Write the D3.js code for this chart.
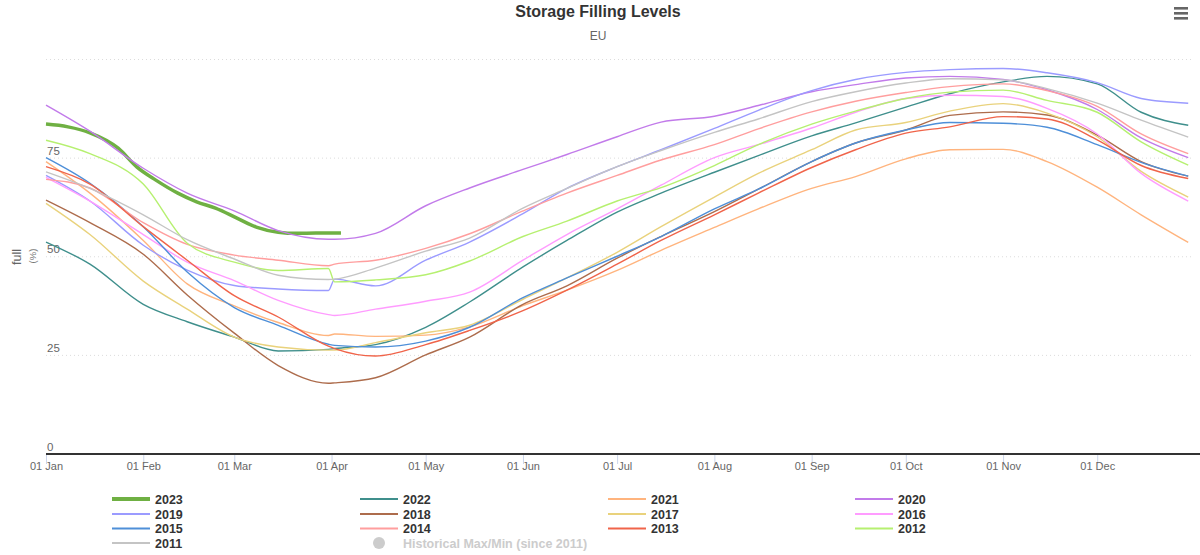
<!DOCTYPE html>
<html>
<head>
<meta charset="utf-8">
<script src="https://cdn.jsdelivr.net/npm/d3@7"></script>
<style>
  html, body { margin: 0; padding: 0; background: #fff; }
  svg { display: block; font-family: "Liberation Sans", Arial, Helvetica, sans-serif; }
</style>
</head>
<body>
<svg id="chart" width="1200" height="555"></svg>
<script>
// ---- data (values in % full) ----
const sampleDates = ["01-01","01-15","02-01","02-15","03-01","03-15","03-31","04-02","04-15","05-01","05-15","06-01","06-15","07-01","07-15","08-01","08-15","09-01","09-15","10-01","10-15","11-01","11-15","12-01","12-15","12-30"];

const dates2023 = ["01-01","01-08","01-15","01-24","01-30","02-05","02-12","02-18","02-24","03-02","03-08","03-15","03-21","03-27","04-04"];
const values2023 = [83.5, 82.8, 81.3, 77.4, 72.6, 69.3, 66.0, 63.8, 62.2, 59.6, 57.4, 56.1, 55.8, 55.9, 55.9];

const values2022 = [53.6, 48.0, 37.8, 33.4, 29.5, 26.0, 26.4, 26.6, 27.6, 32.0, 38.4, 47.3, 54.0, 61.2, 66.0, 71.3, 75.5, 80.5, 83.8, 87.8, 91.2, 94.2, 95.6, 93.7, 86.5, 83.2];
const values2021 = [74.0, 66.0, 54.0, 43.0, 37.4, 33.2, 29.9, 30.3, 29.7, 30.0, 32.1, 37.5, 41.4, 46.4, 51.5, 57.3, 62.0, 67.2, 70.2, 74.7, 77.0, 77.1, 74.0, 67.5, 60.5, 53.5];
const values2020 = [88.3, 81.7, 72.3, 66.0, 61.5, 56.5, 54.3, 54.3, 55.8, 62.8, 67.3, 72.0, 75.8, 80.3, 84.0, 85.5, 88.2, 91.7, 93.5, 95.2, 95.6, 94.8, 92.2, 87.2, 80.0, 75.0];
const values2019 = [70.5, 64.0, 52.8, 46.5, 42.6, 41.7, 41.3, 44.2, 42.5, 49.0, 53.6, 60.8, 67.2, 72.7, 77.0, 82.4, 87.0, 92.0, 94.8, 96.6, 97.3, 97.6, 96.5, 94.0, 90.0, 88.8];
const values2018 = [64.2, 58.5, 50.5, 40.2, 30.5, 22.3, 17.8, 17.9, 19.2, 25.0, 29.5, 37.8, 42.5, 49.5, 55.0, 61.3, 67.0, 74.0, 78.7, 82.0, 85.7, 86.6, 85.8, 80.7, 74.0, 70.3];
const values2017 = [63.4, 55.5, 43.7, 36.6, 29.5, 27.0, 26.2, 26.2, 28.1, 30.6, 32.5, 39.1, 44.5, 51.0, 57.5, 65.0, 71.0, 77.0, 82.0, 83.9, 86.8, 88.7, 86.3, 80.3, 71.5, 65.0];
const values2016 = [70.0, 64.0, 55.5, 48.5, 43.8, 38.8, 35.2, 35.0, 36.6, 38.6, 40.9, 49.0, 55.5, 62.0, 68.0, 75.0, 78.3, 82.5, 86.5, 90.0, 90.8, 90.5, 87.5, 81.0, 71.0, 64.0];
const values2015 = [75.0, 68.5, 57.5, 46.0, 37.0, 32.5, 27.7, 27.4, 27.0, 28.5, 32.0, 39.5, 44.5, 50.0, 55.0, 62.0, 67.0, 74.0, 78.7, 82.0, 83.9, 83.7, 82.7, 78.3, 73.8, 70.3];
const values2014 = [69.5, 67.3, 58.5, 53.0, 50.3, 49.0, 47.6, 48.0, 49.0, 52.0, 55.7, 61.5, 66.0, 70.5, 74.4, 78.3, 82.3, 86.6, 89.3, 91.5, 93.0, 93.7, 92.0, 88.0, 81.0, 76.0];
const values2013 = [72.7, 68.3, 57.5, 49.0, 40.0, 34.6, 27.2, 26.6, 24.7, 27.6, 31.2, 36.2, 41.4, 48.0, 54.0, 60.5, 66.0, 72.5, 77.0, 81.2, 82.8, 85.4, 84.8, 79.5, 73.0, 69.7];
const values2012 = [79.4, 76.0, 68.3, 53.3, 48.5, 46.4, 46.9, 43.5, 44.0, 45.3, 48.8, 55.0, 58.9, 64.0, 67.4, 73.0, 78.3, 83.5, 86.8, 90.0, 91.6, 92.1, 89.5, 86.5, 79.0, 73.1];
const values2011 = [71.4, 67.2, 60.5, 54.2, 49.3, 45.2, 44.1, 44.2, 47.0, 51.3, 54.6, 62.2, 67.2, 72.7, 76.8, 81.4, 84.8, 89.2, 91.7, 93.9, 95.0, 94.7, 92.5, 88.8, 84.5, 80.2];

const seriesNames = ["2023","2022","2021","2020","2019","2018","2017","2016","2015","2014","2013","2012","2011"];
const seriesColors = ["#6fb043","#3f8f8c","#ffb47e","#c27bea","#9b9bff","#ad6c4c","#e9d27c","#ff9cff","#4e8fd8","#ff9e9e","#f0644a","#b6f070","#c4c4c4"];
const historicalLabel = "Historical Max/Min (since 2011)";
const yTicks = [0, 25, 50, 75];
const yGrid = [25, 50, 75, 100];
const titleText = "Storage Filling Levels";
const subtitleText = "EU";

// ---- build ----
const parse = d3.timeParse("%Y-%m-%d");
const toDate = md => parse("2020-" + md);
const seriesValues = [values2023, values2022, values2021, values2020, values2019, values2018, values2017, values2016, values2015, values2014, values2013, values2012, values2011];
const series = seriesNames.map((name, i) => {
  const ds = i === 0 ? dates2023 : sampleDates;
  return { name, color: seriesColors[i], pts: seriesValues[i].map((v, j) => ({ d: toDate(ds[j]), v })) };
});

const svg = d3.select("#chart");
const x = d3.scaleTime().domain([parse("2020-01-01"), parse("2021-01-01")]).range([46, 1194.5]);
const y = d3.scaleLinear().domain([0, 100]).range([453.5, 59]);

// title
svg.append("text").attr("x", 598).attr("y", 17).attr("text-anchor", "middle")
  .attr("font-size", 16).attr("font-weight", "bold").attr("fill", "#333").text(titleText);
svg.append("text").attr("x", 598).attr("y", 40).attr("text-anchor", "middle")
  .attr("font-size", 12).attr("fill", "#666").text(subtitleText);

// hamburger
[0, 5, 10].forEach(o => svg.append("rect").attr("x", 1174).attr("y", 7 + o).attr("width", 14).attr("height", 2.6).attr("fill", "#666"));

// grid
svg.append("g").selectAll("line").data(yGrid).join("line")
  .attr("x1", 46).attr("x2", 1192).attr("y1", d => y(d) + 0.5).attr("y2", d => y(d) + 0.5)
  .attr("stroke", "#dcdcdc").attr("stroke-width", 1).attr("stroke-dasharray", "1,3");

// y labels
svg.append("g").selectAll("text").data(yTicks).join("text")
  .attr("x", 47).attr("y", d => y(d) - 3).attr("font-size", 11.5).attr("fill", "#666").text(d => d);

// y title
svg.append("g").attr("transform", "translate(21,257) rotate(-90)")
  .append("text").attr("text-anchor", "middle").attr("font-size", 12.5).attr("fill", "#666").text("full");
svg.append("g").attr("transform", "translate(36,256) rotate(-90)")
  .append("text").attr("text-anchor", "middle").attr("font-size", 9.5).attr("fill", "#777").text("(%)");

// x axis
const xAxis = d3.axisBottom(x).ticks(d3.timeMonth.every(1)).tickFormat(d3.timeFormat("%d %b")).tickSize(10).tickSizeOuter(0);
const xg = svg.append("g").attr("transform", "translate(0,454)").call(xAxis);
xg.select(".domain").remove();
xg.selectAll(".tick line").attr("stroke", "#ccd6eb");
xg.selectAll(".tick text").attr("font-size", 11).attr("fill", "#666").attr("font-family", "Liberation Sans, Arial, sans-serif").attr("y", 8).attr("dy", "0.71em");
xg.selectAll(".tick").filter(d => d.getFullYear() === 2021).remove();
svg.append("line").attr("x1", 46).attr("x2", 1200).attr("y1", 454).attr("y2", 454).attr("stroke", "#333").attr("stroke-width", 2);

// lines
const line = d3.line().x(p => x(p.d)).y(p => y(p.v)).curve(d3.curveMonotoneX);
svg.append("g").selectAll("path").data(series).join("path")
  .attr("d", s => line(s.pts)).attr("fill", "none").attr("stroke", s => s.color)
  .attr("stroke-width", s => s.name === "2023" ? 3.5 : 1.4).attr("stroke-linejoin", "round");

// legend
const colX = [112, 360, 608, 855];
const rowY = [499, 514, 528.5, 543];
const leg = svg.append("g");
const items = seriesNames.map((n, i) => ({ n, c: seriesColors[i], i }));
items.forEach(it => {
  const cx = colX[it.i % 4], cy = rowY[Math.floor(it.i / 4)];
  leg.append("line").attr("x1", cx).attr("x2", cx + 38).attr("y1", cy).attr("y2", cy)
    .attr("stroke", it.c).attr("stroke-width", it.n === "2023" ? 4 : 2);
  leg.append("text").attr("x", cx + 43).attr("y", cy + 4.5).attr("font-size", 12.5).attr("font-weight", "bold")
    .attr("fill", "#333").text(it.n);
});
{
  const cx = colX[1], cy = rowY[3];
  leg.append("circle").attr("cx", cx + 19).attr("cy", cy).attr("r", 6).attr("fill", "#cccccc");
  leg.append("text").attr("x", cx + 43).attr("y", cy + 4.5).attr("font-size", 12.5).attr("font-weight", "bold")
    .attr("fill", "#cccccc").text(historicalLabel);
}
</script>
</body>
</html>
